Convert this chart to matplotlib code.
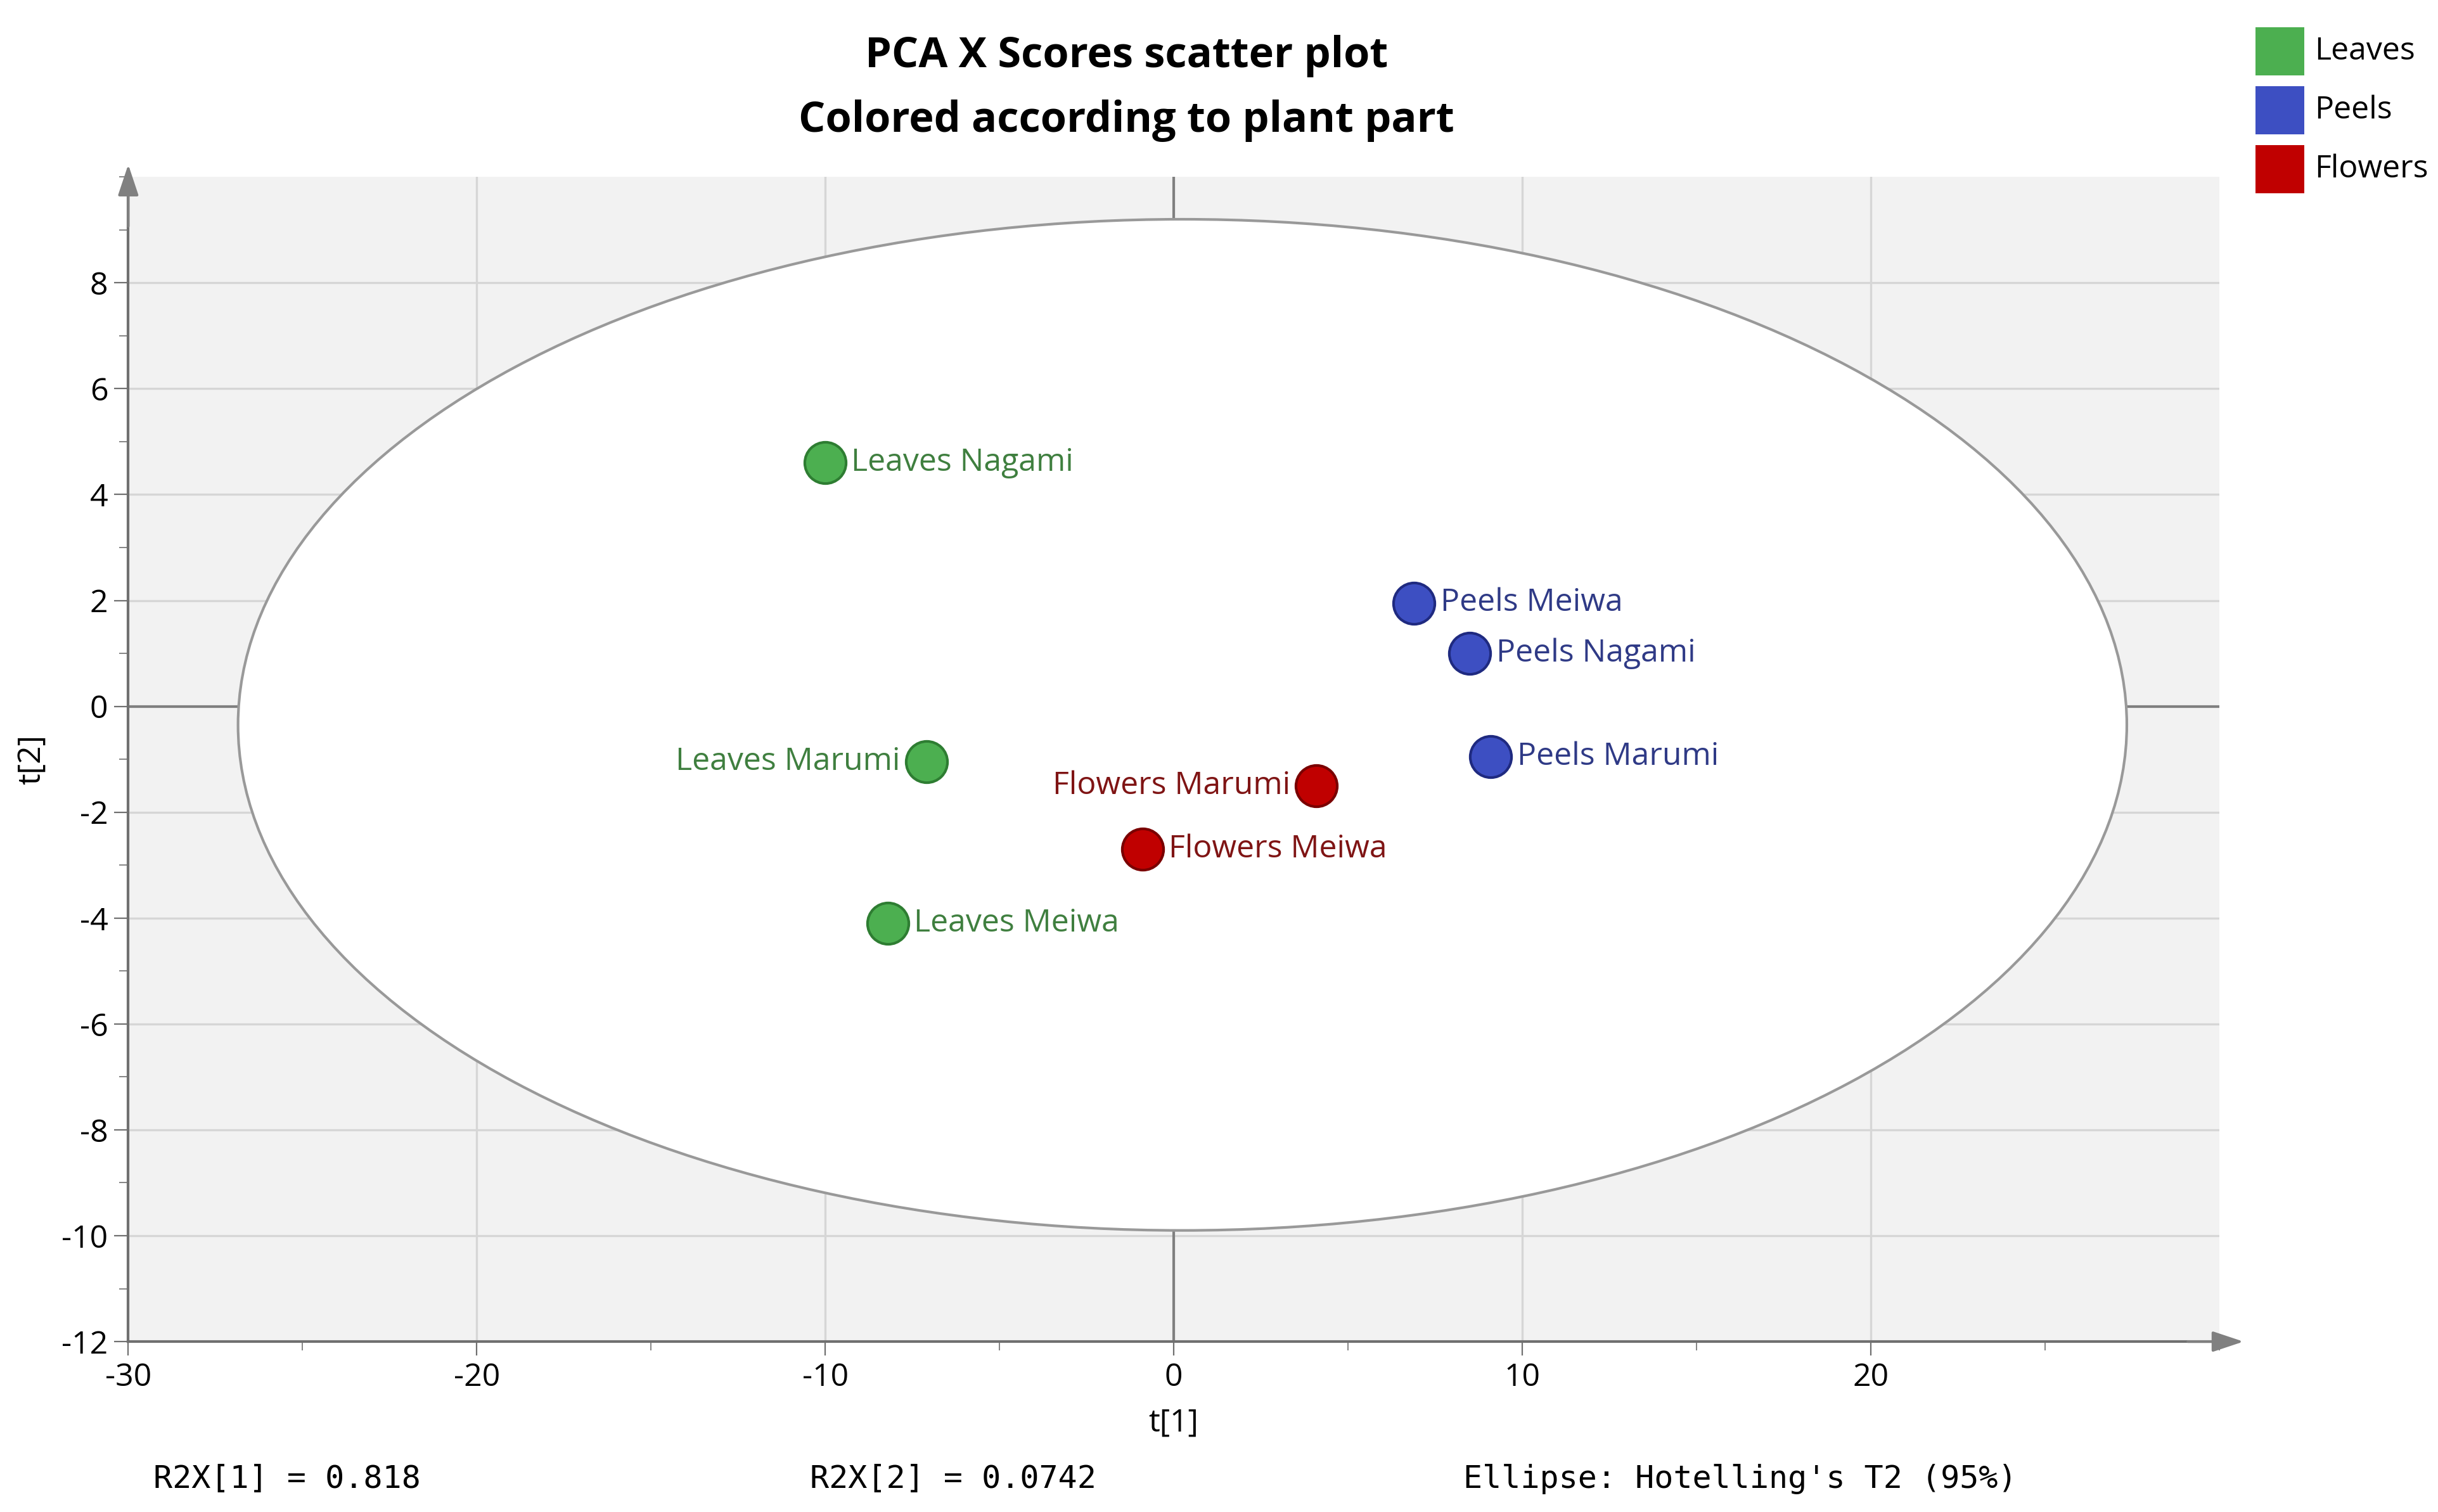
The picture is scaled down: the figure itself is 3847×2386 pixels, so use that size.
import matplotlib
matplotlib.use("Agg")
import matplotlib.pyplot as plt
from matplotlib.patches import Ellipse, Rectangle
from matplotlib.ticker import MultipleLocator

plt.rcParams['font.family'] = ['Open Sans', 'DejaVu Sans']
plt.rcParams['axes.unicode_minus'] = False

names = ["Leaves Nagami", "Leaves Marumi", "Leaves Meiwa",
         "Peels Meiwa", "Peels Nagami", "Peels Marumi",
         "Flowers Marumi", "Flowers Meiwa"]
groups = ["Leaves", "Leaves", "Leaves", "Peels", "Peels", "Peels", "Flowers", "Flowers"]
t1 = [-10.0, -7.1, -8.2, 6.9, 8.5, 9.1, 4.1, -0.9]
t2 = [4.6, -1.05, -4.1, 1.95, 1.0, -0.95, -1.5, -2.7]
label_side = ["right", "left", "right", "right", "right", "right", "left", "right"]
categories = ["Leaves", "Peels", "Flowers"]
xticks = [-30, -20, -10, 0, 10, 20]
yticks = [-12, -10, -8, -6, -4, -2, 0, 2, 4, 6, 8]
fill = {"Leaves": "#4caf50", "Peels": "#3d4fc2", "Flowers": "#c00000"}
edge = {"Leaves": "#2e7d32", "Peels": "#1f2a80", "Flowers": "#7a0000"}
txt = {"Leaves": "#3f7f3f", "Peels": "#2f3a86", "Flowers": "#7f1414"}

fig = plt.figure(figsize=(19.24, 11.93), dpi=200)
ax = fig.add_axes([0.0526, 0.1127, 0.8574, 0.7703])
ax.set_facecolor("#f2f2f2")
ax.set_xlim(-30, 30)
ax.set_ylim(-12, 10)
ax.set_xticks(xticks)
ax.set_yticks(yticks)
ax.xaxis.set_minor_locator(MultipleLocator(5))
ax.yaxis.set_minor_locator(MultipleLocator(1))
ax.grid(True, which="major", color="#d6d6d6", lw=1.2)
ax.set_axisbelow(True)
for s in ["top", "right"]:
    ax.spines[s].set_visible(False)
for s in ["left", "bottom"]:
    ax.spines[s].set_color("#707070")
    ax.spines[s].set_linewidth(1.5)
ax.tick_params(which="both", colors="#707070", labelcolor="black", labelsize=18)
ax.tick_params(which="major", length=8)
ax.tick_params(which="minor", length=5)
ax.axhline(0, color="#808080", lw=1.5, zorder=1)
ax.axvline(0, color="#808080", lw=1.5, zorder=1)
ax.annotate("", xy=(30.8, -12), xytext=(29, -12), annotation_clip=False,
            arrowprops=dict(arrowstyle="-|>,head_width=0.5,head_length=1.5", color="#808080", lw=1.5))
ax.annotate("", xy=(-30, 10.3), xytext=(-30, 9), annotation_clip=False,
            arrowprops=dict(arrowstyle="-|>,head_width=0.5,head_length=1.5", color="#808080", lw=1.5))

ax.add_patch(Ellipse((0.25, -0.35), 2 * 27.1, 2 * 9.55, facecolor="white",
                     edgecolor="#999999", lw=1.5, zorder=1.5))

for n, g, x, y, side in zip(names, groups, t1, t2, label_side):
    ax.scatter([x], [y], s=550, color=fill[g], edgecolor=edge[g], lw=1.5, zorder=3)
    if side == "right":
        ax.text(x + 0.75, y, n, color=txt[g], fontsize=18, va="center", ha="left", zorder=4)
    else:
        ax.text(x - 0.75, y, n, color=txt[g], fontsize=18, va="center", ha="right", zorder=4)

ax.set_xlabel("t[1]", fontsize=18, labelpad=8)
ax.set_ylabel("t[2]", fontsize=18, labelpad=8)

fig.text(0.462, 0.963, "PCA X Scores scatter plot", ha="center", va="center",
         fontsize=24, fontweight="bold")
fig.text(0.462, 0.92, "Colored according to plant part", ha="center", va="center",
         fontsize=24, fontweight="bold")

for i, c in enumerate(categories):
    y = 0.966 - i * 0.039
    fig.patches.append(Rectangle((0.925, y - 0.016), 0.02, 0.032, transform=fig.transFigure,
                                 facecolor=fill[c], edgecolor="none"))
    fig.text(0.949, y, c, fontsize=18, va="center", ha="left")

mono = dict(family="DejaVu Sans Mono", fontsize=18, va="center")
fig.text(0.063, 0.022, "R2X[1] = 0.818", **mono)
fig.text(0.332, 0.022, "R2X[2] = 0.0742", **mono)
fig.text(0.600, 0.022, "Ellipse: Hotelling's T2 (95%)", **mono)

fig.savefig("out.png", dpi=200)
